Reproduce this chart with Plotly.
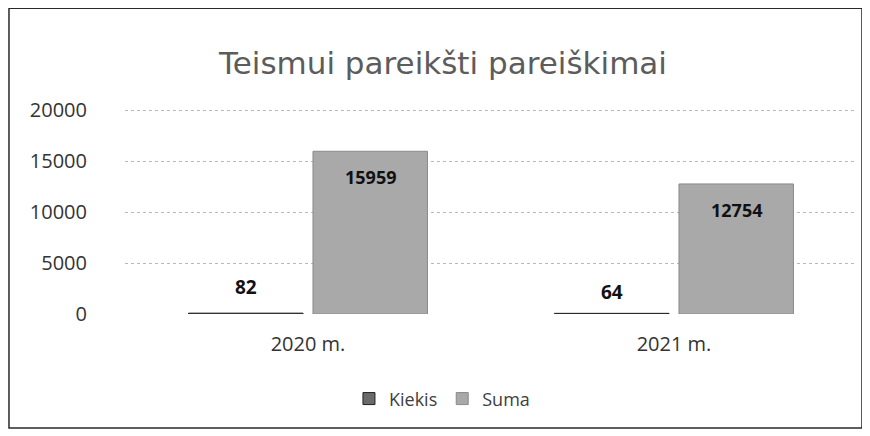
import plotly.graph_objects as go

categories = ["2020 m.", "2021 m."]
kiekis = [82, 64]
suma = [15959, 12754]
series_names = ["Kiekis", "Suma"]
title_text = "Teismui pareikšti pareiškimai"
y_ticks = [0, 5000, 10000, 15000, 20000]

FONT = "Open Sans, Liberation Sans, sans-serif"
BARGAP = 0.32
GROUPGAP = 0.08

fig = go.Figure()
fig.add_trace(go.Bar(
    x=categories, y=kiekis, name=series_names[0],
    marker=dict(color="#6a6a6a", line=dict(color="#222222", width=1)),
))
fig.add_trace(go.Bar(
    x=categories, y=suma, name=series_names[1],
    marker=dict(color="#a9a9a9", line=dict(color="#8a8a8a", width=1)),
))

# data labels placed on the axis coordinates of each bar
slot = (1 - BARGAP) / 2
annotations = []
for i, v in enumerate(kiekis):
    annotations.append(dict(x=i - slot / 2, y=v, xref="x", yref="y", text=f"<b>{v}</b>",
                            showarrow=False, yshift=26 if i == 0 else 21, yanchor="middle",
                            font=dict(size=19, color="#111111", family=FONT)))
for i, v in enumerate(suma):
    annotations.append(dict(x=i + slot / 2, y=v, xref="x", yref="y", text=f"<b>{v}</b>",
                            showarrow=False, yshift=-26, yanchor="middle",
                            font=dict(size=18, color="#111111", family=FONT)))

fig.update_layout(
    width=870, height=436,
    margin=dict(l=117, r=21, t=99, b=130),
    paper_bgcolor="white", plot_bgcolor="white",
    barmode="group", bargap=BARGAP, bargroupgap=GROUPGAP,
    font=dict(family=FONT, color="#404040"),
    title=dict(text=title_text, x=0.5, xanchor="center", y=1 - 55 / 436, yanchor="middle",
               font=dict(size=31, color="#5c5c5c", family="DejaVu Sans, sans-serif")),
    showlegend=True,
    legend=dict(orientation="h", x=0.433, xanchor="center", y=-0.41, yanchor="middle",
                font=dict(size=18, color="#404040"), itemwidth=30, traceorder="normal"),
    xaxis=dict(showgrid=False, showline=False, ticks="", ticklabelstandoff=16,
               tickfont=dict(size=20, color="#333333")),
    yaxis=dict(range=[0, 20300], tickvals=y_ticks, tickformat="d", showgrid=True,
               gridcolor="#b8b8b8", griddash="dot", gridwidth=1, zeroline=False,
               showline=False, tickfont=dict(size=20, color="#333333"),
               ticklabelstandoff=37),
    annotations=annotations,
    shapes=[dict(type="rect", xref="paper", yref="paper",
                 x0=-0.1585, x1=1.0068, y0=-0.5512, y1=1.4768,
                 line=dict(color="#2a2a2a", width=1.5))],
)

fig.write_html("out.html")
